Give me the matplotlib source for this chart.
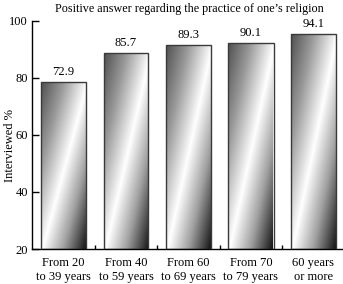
import numpy as np
import matplotlib
matplotlib.use("Agg")
import matplotlib.pyplot as plt
from matplotlib.colors import LinearSegmentedColormap

categories = ["From 20\nto 39 years", "From 40\nto 59 years", "From 60\nto 69 years",
              "From 70\nto 79 years", "60 years\nor more"]
values = [72.9, 85.7, 89.3, 90.1, 94.1]
value_labels = ["72.9", "85.7", "89.3", "90.1", "94.1"]
ytick_labels = ["20", "40", "60", "80", "100"]
title = "Positive answer regarding the practice of one\u2019s religion"
ylabel = "Interviewed %"

plt.rcParams['font.family'] = ['Liberation Serif', 'DejaVu Serif']
FS = 9

fig = plt.figure(figsize=(3.43, 2.84), dpi=100)
ax = fig.add_axes([32/343, 35/284, 1 - 32/343, (249 - 20.5)/284])

x = np.arange(len(values))
bw = 0.72
bars = ax.bar(x, values, width=bw, color='none', edgecolor='#3a3a3a', linewidth=1.0, zorder=3)

cmap = LinearSegmentedColormap.from_list(
    "metal", [(0.0, "#505050"), (0.25, "#9a9a9a"), (0.52, "#ffffff"), (0.75, "#a0a0a0"), (1.0, "#151515")])
n = 200
u = np.linspace(0, 1, n)[None, :]
v = np.linspace(0, 1, n)[:, None]
t = (u + v) / 2.0
for xi, val, lab, b in zip(x, values, value_labels, bars):
    im = ax.imshow(t, cmap=cmap, vmin=0, vmax=1, aspect='auto',
                   extent=(xi - bw/2, xi + bw/2, 0, val), origin='upper', zorder=2,
                   interpolation='bilinear')
    im.set_clip_path(b)
    ax.annotate(lab, (xi, val), xytext=(0, 3), textcoords='offset points',
                ha='center', va='bottom', fontsize=FS)

ax.set_xlim(-0.504, 4.472)
ax.set_ylim(0, 100)
ax.set_yticks(np.linspace(0, 100, len(ytick_labels)))
ax.set_yticklabels(ytick_labels, fontsize=FS)
ax.set_xticks(x)
ax.set_xticklabels(categories, fontsize=FS, linespacing=1.2)
ax.set_xticks(x[:-1] + 0.5, minor=True)
ax.tick_params(axis='x', which='major', length=0, pad=6)
ax.tick_params(axis='x', which='minor', direction='in', length=3, width=1)
ax.tick_params(axis='y', direction='in', length=5, width=1, pad=3)
for s in ['top', 'right']:
    ax.spines[s].set_visible(False)
for s in ['left', 'bottom']:
    ax.spines[s].set_linewidth(1.0)
ax.set_ylabel(ylabel, fontsize=FS)
ax.yaxis.label.set_verticalalignment('center')
ax.yaxis.set_label_coords(-0.071, 0.455)
fig.text(0.553, 1 - 9/284, title, ha='center', va='center', fontsize=8.7)

fig.savefig("out.png", dpi=100)
